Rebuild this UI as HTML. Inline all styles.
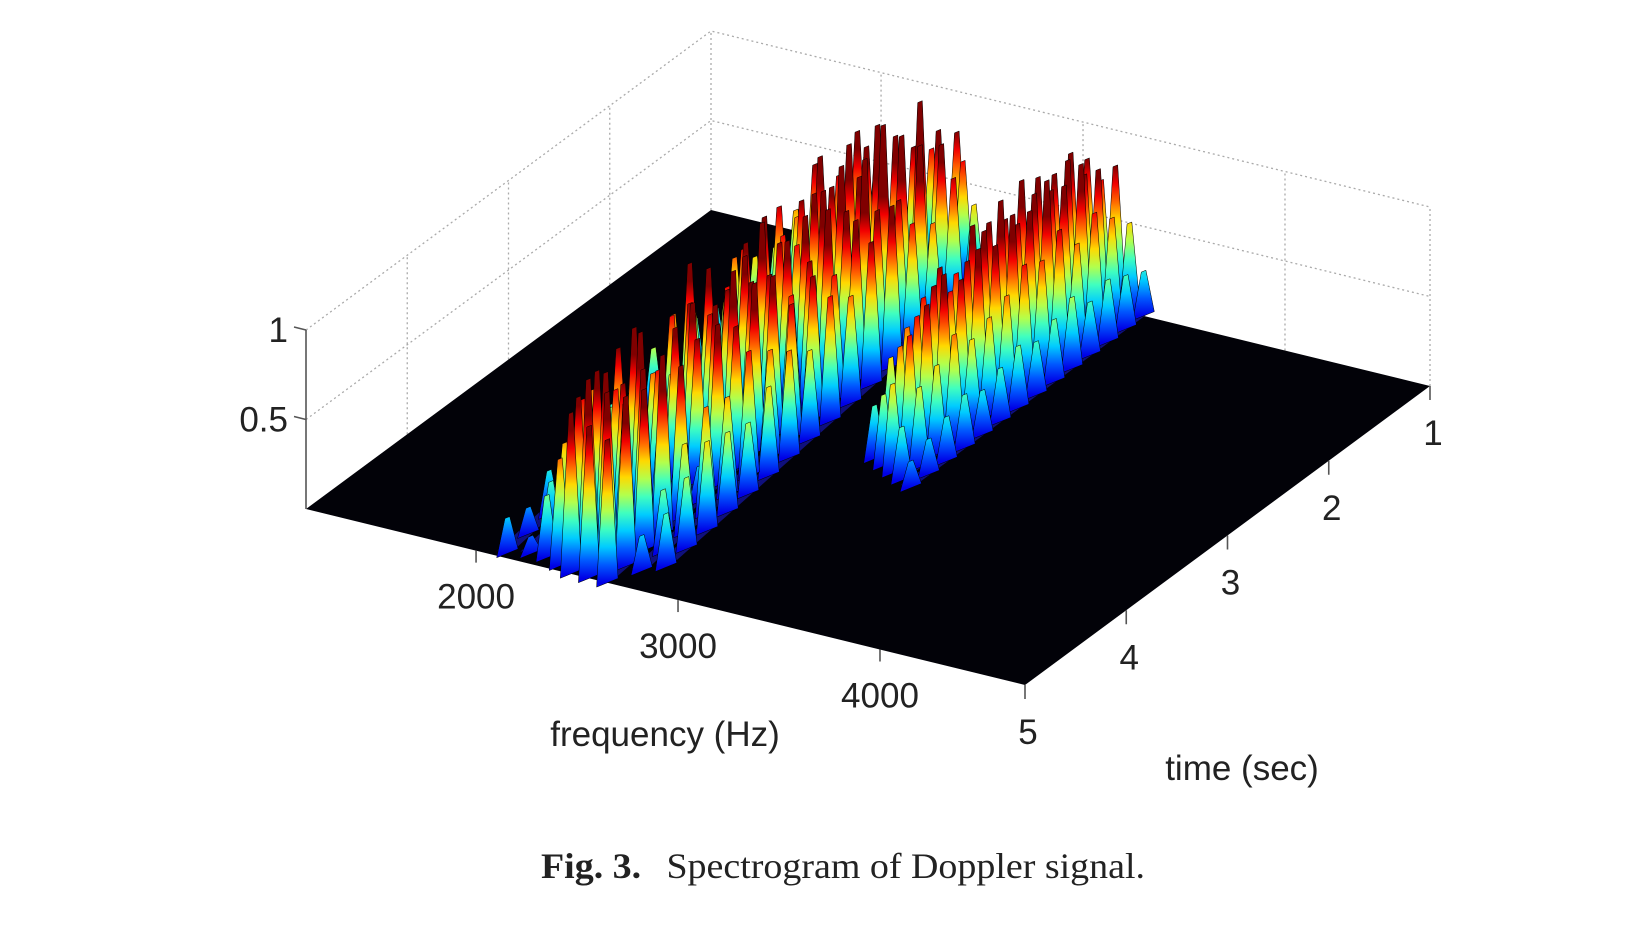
<!DOCTYPE html>
<html><head><meta charset="utf-8"><title>Spectrogram of Doppler signal</title>
<style>
html,body{margin:0;padding:0;background:#fff;}
svg{display:block;}
text{font-family:"Liberation Sans",Arial,sans-serif;fill:#222;}
</style></head>
<body>
<svg id="chart" width="1650" height="930" viewBox="0 0 1650 930" xmlns="http://www.w3.org/2000/svg">
<defs id="defs"></defs>
<g id="grid"></g>
<polygon id="floor" fill="#020208"></polygon>
<g id="marks"></g>
<g id="axes"></g>
<text x="665" y="746" font-size="35" text-anchor="middle">frequency (Hz)</text>
<text x="1242" y="780" font-size="35" text-anchor="middle">time (sec)</text>
<text x="541" y="878" font-size="36" textLength="604" lengthAdjust="spacingAndGlyphs" style="font-family:'Liberation Serif',serif" fill="#111"><tspan font-weight="bold">Fig. 3.</tspan><tspan dx="24">Spectrogram of Doppler signal.</tspan></text>
</svg>
<script>
// ---- data ----
const freqTicks = [2000, 3000, 4000];
const timeTicks = [1, 2, 3, 4, 5];
const zTicks = [0.5, 1];
const ridgeFreqStart = [2130, 2220, 2300, 2390, 2470, 2560, 2650, 2720, 2790, 3020, 3090, 3160, 3230, 3300];
const ridgeFreqEnd   = [1850, 1930, 2000, 2100, 2200, 2300, 2400, 2480, 2560, 3020, 3090, 3160, 3230, 3300];
const ridgeTimeStart = [4.95, 4.9, 4.9, 4.95, 5.0, 5.0, 5.0, 4.8, 4.7, 3.1, 3.15, 3.2, 3.25, 3.3];
const ridgeTimeEnd   = [1.3, 1.3, 1.3, 1.25, 1.2, 1.1, 1.05, 1.15, 1.2, 1.0, 1.0, 1.0, 1.0, 1.0];
const ridgeHeights = [
 [0.2,0.15,0.25,0.3,0.35,0.3,0.2,0.4,0.3,0.35,0.3,0.25,0.3,0.2,0.25,0.2],
 [0.1,0.3,0.45,0.6,0.4,0.5,0.3,0.6,0.5,0.4,0.6,0.5,0.45,0.55,0.4,0.3],
 [0.35,0.55,0.7,0.5,0.8,0.6,0.3,0.7,0.9,0.6,0.5,0.7,0.6,0.75,0.6,0.8,0.5,0.4],
 [0.6,0.85,0.9,0.7,0.95,0.6,0.5,0.8,0.9,0.7,0.85,0.9,0.7,0.8,0.95,0.75,0.9,0.6],
 [0.9,1.0,0.95,0.8,1.0,0.7,0.85,0.9,0.75,0.8,0.9,1.0,0.8,0.7,0.9,0.85,1.0,0.9,0.7,0.6],
 [0.85,0.95,0.8,0.9,0.6,0.3,0.8,0.9,1.0,0.85,0.8,0.9,0.95,1.0,1.05,0.9,1.1,0.95,0.8,0.7],
 [0.8,0.95,0.9,1.0,0.85,0.2,0.9,0.8,0.95,0.9,0.7,0.8,1.0,0.9,1.1,1.2,1.05,1.15,0.9,0.8],
 [0.2,0.35,0.5,0.6,0.55,0.7,0.6,0.75,0.8,0.7,0.9,0.85,0.8,1.0,0.9,0.7],
 [0.3,0.4,0.5,0.45,0.4,0.5,0.6,0.5,0.7,0.6,0.8,0.9,0.7,0.6,0.75,0.5],
 [0.3,0.5,0.6,0.7,0.8,0.7,0.9,0.85,0.8,0.95,0.9,0.85,0.9,0.8],
 [0.4,0.6,0.7,0.8,0.7,0.8,0.9,1.0,0.8,0.9,0.85,0.95,0.8,0.7],
 [0.5,0.7,0.8,0.9,0.8,0.9,0.85,0.95,0.9,1.0,0.9,0.95,0.85,0.8],
 [0.3,0.45,0.5,0.6,0.5,0.55,0.6,0.7,0.65,0.75,0.6,0.7,0.6,0.5],
 [0.15,0.2,0.25,0.3,0.25,0.3,0.35,0.3,0.35,0.4,0.3,0.35,0.3,0.25]
];
// ---- projection ----
const O = [306, 509], FV = [719, 176], TV = [405, -299], ZS = 179;
const FMIN = 1158, FMAX = 4718;
function P(f, t, z) {
  const fu = (f - FMIN) / (FMAX - FMIN), tu = (5 - t) / 4;
  return [O[0] + FV[0]*fu + TV[0]*tu, O[1] + FV[1]*fu + TV[1]*tu - (z||0)*ZS];
}
function cl(v){return Math.max(0,Math.min(1,v));}
function jet(v){
  const r=cl(1.5-Math.abs(4*v-3)), g=cl(1.5-Math.abs(4*v-2)), b=cl(1.5-Math.abs(4*v-1));
  return `rgb(${Math.round(r*255)},${Math.round(g*255)},${Math.round(b*255)})`;
}
const NS = 'http://www.w3.org/2000/svg';
function mk(tag, attrs, parent){const e=document.createElementNS(NS,tag);for(const k in attrs)e.setAttribute(k,attrs[k]);parent.appendChild(e);return e;}
const pts = a => a.map(p => p[0].toFixed(1)+','+p[1].toFixed(1)).join(' ');

// floor
const floor = document.getElementById('floor');
floor.setAttribute('points', pts([P(FMIN,5), P(FMAX,5), P(FMAX,1), P(FMIN,1)]));

// grid walls
const grid = document.getElementById('grid');
const gs = {stroke:'#aaa','stroke-width':1.3,'stroke-dasharray':'2,3',fill:'none'};
for (const t of [4,3,2,1]) { const a=P(FMIN,t,0), b=P(FMIN,t,1);
  const l = mk('line',Object.assign({x1:a[0],y1:a[1],x2:b[0],y2:b[1]},gs),grid);
    }
for (const f of freqTicks.concat([FMAX])) { const a=P(f,1,0), b=P(f,1,1);
  const l = mk('line',Object.assign({x1:a[0],y1:a[1],x2:b[0],y2:b[1]},gs),grid);
    }
for (const z of zTicks) {
  const a=P(FMIN,5,z), b=P(FMIN,1,z), c=P(FMAX,1,z);
  const l = mk('polyline',Object.assign({points:pts([a,b,c])},gs),grid);
   
}

// marks
const defs = document.getElementById('defs');
const marks = document.getElementById('marks');
const items = [];
ridgeHeights.forEach((hs, r) => {
  const n = hs.length;
  const t0 = ridgeTimeStart[r], t1 = ridgeTimeEnd[r], f0 = ridgeFreqStart[r], f1 = ridgeFreqEnd[r];
  items.push({depth: -1e9 + r, kind:'skirt', r, pts: [P(f0-50,t0,0), P(f1-50,t1,0), P(f1+50,t1,0.05), P(f0+50,t0,0.05)]});
  hs.forEach((h, i) => {
    const u = n > 1 ? i/(n-1) : 0;
    const t = t0 + (t1 - t0)*u, f = f0 + (f1 - f0)*u;
    const base = P(f, t, 0);
    items.push({depth: base[1], kind:'spike', f, t, h, r, i});
  });
});
items.sort((a,b)=>a.depth-b.depth);
let gid = 0;
items.forEach(it => {
  if (it.kind === 'skirt') {
    const s = mk('polygon',{points:pts(it.pts),fill:'#12128a',opacity:0.9},marks);
    
    
    return;
  }
  const w = 18, dt = 0.07;
  const A = P(it.f - w, it.t + dt, 0), B = P(it.f + w, it.t - dt, 0);
  const C = P(it.f + 4, it.t - 0.015, it.h), D = P(it.f - 4, it.t + 0.015, it.h);
  const base = P(it.f, it.t, 0);
  const id = 'g' + (gid++);
  const lg = mk('linearGradient',{id, gradientUnits:'userSpaceOnUse', x1:base[0], y1:base[1], x2:base[0], y2:base[1]-ZS*0.8},defs);
  for (let k=0;k<=8;k++){ mk('stop',{offset:k/8,'stop-color':jet(0.1+0.9*k/8)},lg); }
  const poly = mk('polygon',{points:pts([A,B,C,D]),fill:`url(#${id})`,stroke:'#000','stroke-width':0.5},marks);
  
  
});

// axes
const axes = document.getElementById('axes');
const ax = {stroke:'#555','stroke-width':1.6};
const z0 = P(FMIN,5,0), z1 = P(FMIN,5,1);
const zl = mk('line',Object.assign({x1:z0[0],y1:z0[1],x2:z1[0],y2:z1[1]},ax),axes);
 
zTicks.forEach(z => {
  const p = P(FMIN,5,z);
  mk('line',Object.assign({x1:p[0]-12,y1:p[1]-3,x2:p[0],y2:p[1]},ax),axes);
  const tx = mk('text',{x:p[0]-18,y:p[1]+12,'font-size':35,'text-anchor':'end'},axes);
  tx.textContent = String(z);
   
});
freqTicks.forEach(f => {
  const p = P(f,5,0);
  mk('line',Object.assign({x1:p[0],y1:p[1],x2:p[0],y2:p[1]+12},ax),axes);
  const tx = mk('text',{x:p[0],y:p[1]+58,'font-size':35,'text-anchor':'middle'},axes);
  tx.textContent = String(f);
   
});
timeTicks.forEach(t => {
  const p = P(FMAX,t,0);
  mk('line',Object.assign({x1:p[0],y1:p[1],x2:p[0],y2:p[1]+14},ax),axes);
  const tx = mk('text',{x:p[0]+3,y:p[1]+59,'font-size':35,'text-anchor':'middle'},axes);
  tx.textContent = String(t);
   
});
</script>
</body></html>
